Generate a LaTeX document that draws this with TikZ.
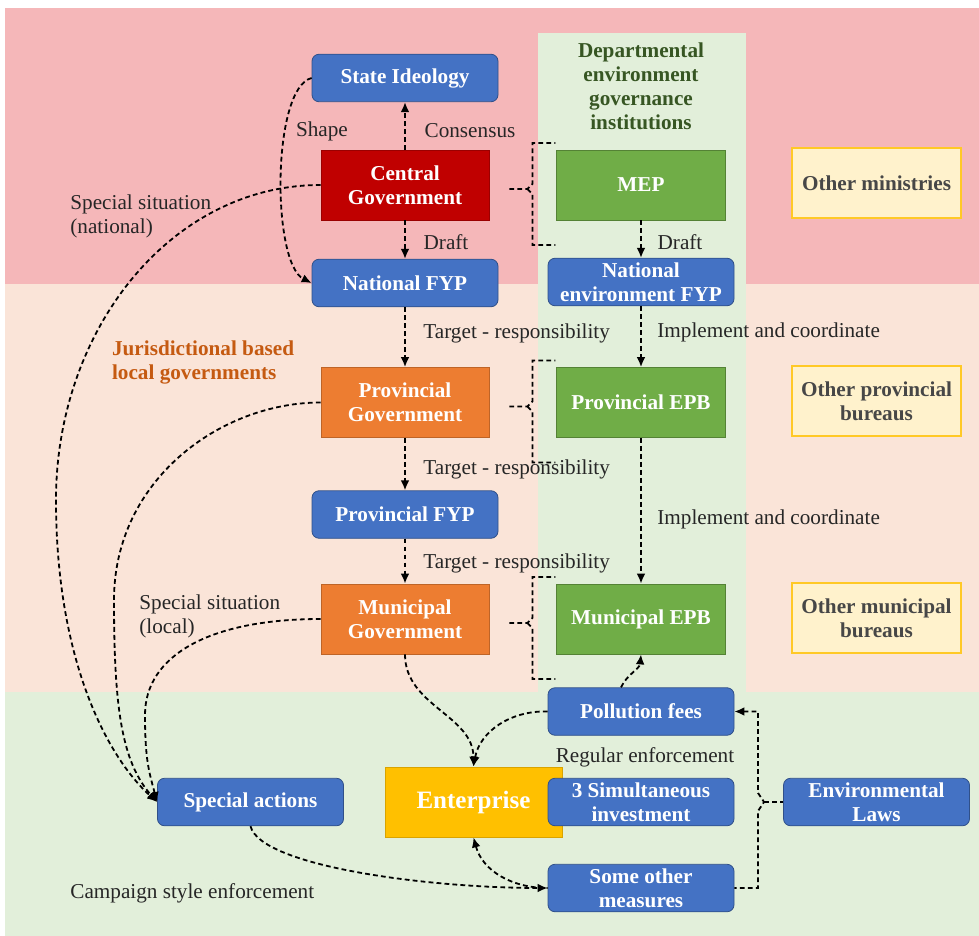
\documentclass[tikz,border=0pt]{standalone}
\usepackage{fontspec}
\setmainfont{Liberation Serif}
\usepackage{xcolor}
\usepackage{tikz}
\usetikzlibrary{arrows.meta, calc}
\definecolor{natband}{HTML}{F5B7B9}
\definecolor{locband}{HTML}{FAE4D8}
\definecolor{entband}{HTML}{E2EFDA}
\definecolor{fypblue}{HTML}{4472C4}
\definecolor{govred}{HTML}{C00000}
\definecolor{govorange}{HTML}{ED7D31}
\definecolor{epbgreen}{HTML}{70AD47}
\definecolor{entyellow}{HTML}{FFC000}
\definecolor{othfill}{HTML}{FFF2CC}
\definecolor{deptgreen}{HTML}{375623}
\definecolor{jurorange}{HTML}{C55A11}
\definecolor{ink}{HTML}{262626}
\newcommand{\basefont}{\fontsize{10.6}{12}\selectfont}
\tikzset{
    >={Latex[length=5pt, width=4.4pt]},
    every node/.style={font=\basefont},
    fypbox/.style={draw=fypblue!70!black, fill=fypblue, rounded corners=3.5pt, text=white, font=\basefont\bfseries, align=center, minimum width=93pt, minimum height=23.75pt, inner sep=1pt},
    govbox/.style={draw=#1!80!black, fill=#1, text=white, font=\basefont\bfseries, align=center, minimum width=84pt, minimum height=35pt, inner sep=1pt},
    epbbox/.style={draw=epbgreen!75!black, fill=epbgreen, text=white, font=\basefont\bfseries, align=center, minimum width=84.5pt, minimum height=35pt, inner sep=1pt},
    otherbox/.style={draw=entyellow!85!white, line width=0.8pt, fill=othfill, text=black!72, font=\basefont\bfseries, align=center, minimum width=84.5pt, minimum height=35pt, inner sep=1pt},
    entbox/.style={draw=entyellow!85!black, fill=entyellow, text=white, font=\fontsize{12.5}{14}\selectfont\bfseries, minimum width=88.5pt, minimum height=35pt},
    dashline/.style={draw=black, line width=0.9pt, dash pattern=on 2.4pt off 1.6pt},
    link/.style={dashline, ->},
    lab/.style={text=ink, inner sep=1pt, align=left}
}

\begin{document}
\begin{tikzpicture}[x=0.5pt, y=-0.5pt]
    \useasboundingbox (0,0) rectangle (979,936);
    % levels
    \fill[natband] (5,8) rectangle (979,284);
    \fill[locband] (5,284) rectangle (979,692);
    \fill[entband] (5,692) rectangle (979,936);
    \fill[entband] (538,33) rectangle (746,692);
    \node[text=deptgreen, font=\basefont\bfseries, align=center] (dept) at (641,86) {Departmental\\environment\\governance\\institutions};
    \node[text=jurorange, font=\basefont\bfseries, align=left, anchor=west] (juris) at (105,362) {Jurisdictional based\\local governments};

    % national
    \node[fypbox] (si) at (405,78) {State Ideology};
    \node[govbox=govred] (cg) at (405,185) {Central\\Government};
    \node[fypbox] (nfyp) at (405,283) {National FYP};
    \node[epbbox] (mep) at (641,185) {MEP};
    \node[fypbox] (nefyp) at (641,282) {National\\environment FYP};
    \node[otherbox] (om) at (876.5,183) {Other ministries};

    % provincial and municipal
    \node[govbox=govorange] (pg) at (405,402.5) {Provincial\\Government};
    \node[epbbox] (pepb) at (641,402.5) {Provincial EPB};
    \node[otherbox] (opb) at (876.5,401) {Other provincial\\bureaus};
    \node[fypbox] (pfyp) at (405,514.5) {Provincial FYP};
    \node[govbox=govorange] (mg) at (405,619) {Municipal\\Government};
    \node[epbbox] (mepb) at (641,619) {Municipal EPB};
    \node[otherbox] (omb) at (876.5,618) {Other municipal\\bureaus};

    % enforcement
    \node[fypbox] (pf) at (641,711.5) {Pollution fees};
    \node[entbox] (ent) at (473.5,802) {Enterprise};
    \node[fypbox] (tsi) at (641,802) {3 Simultaneous\\investment};
    \node[fypbox] (som) at (641,888) {Some other\\measures};
    \node[fypbox] (el) at (876.5,802) {Environmental\\Laws};
    \node[fypbox] (sa) at (250.5,802) {Special actions};

    % labels
    \node[lab] (lshape) at (322,131) {Shape};
    \node[lab] (lcons) at (470,131) {Consensus};
    \node[lab] (ldraft) at (446,242) {Draft};
    \node[lab] (ldraftenv) at (680,242) {Draft};
    \node[lab, anchor=west] (ltr1) at (421,333) {Target - responsibility};
    \node[lab, anchor=west] (ltr2) at (421,469) {Target - responsibility};
    \node[lab, anchor=west] (ltr3) at (421,563) {Target - responsibility};
    \node[lab, anchor=west] (lic1) at (655,332) {Implement and coordinate};
    \node[lab, anchor=west] (lic2) at (655,519) {Implement and coordinate};
    \node[lab, anchor=west] (lssn) at (68,216) {Special situation\\(national)};
    \node[lab, anchor=west] (lssl) at (137,616) {Special situation\\(local)};
    \node[lab] (lreg) at (645,757) {Regular enforcement};
    \node[lab, anchor=west] (lcamp) at (68,893) {Campaign style enforcement};

    % vertical flows
    \draw[link] (cg) -- (si);
    \draw[link] (cg) -- (nfyp);
    \draw[link] (nfyp) -- (pg);
    \draw[link] (pg) -- (pfyp);
    \draw[link] (pfyp) -- (mg);
    \draw[link] (mep) -- (nefyp);
    \draw[link] (nefyp) -- (pepb);
    \draw[link] (pepb) -- (mepb);
    \draw[link] (si.west) .. controls +(-40,10) and +(-40,-20) .. (nfyp.west);

    % governments to their departments
    \foreach \g in {cg,pg,mg}
        \draw[dashline] ($(\g.east)+(20,4)$) -- ++(18,0) -- ++(5,-5) -- ++(0,-41) -- ++(23,0)
                        ($(\g.east)+(38,4)$) -- ++(5,5) -- ++(0,51) -- ++(23,0);

    % special situations
    \draw[link] (cg.west) .. controls +(-150,0) and +(0,-170) .. (56,500) .. controls +(0,160) and +(-50,-45) .. (sa.west);
    \draw[link] (pg.west) .. controls +(-100,0) and +(0,-120) .. (114,600) .. controls +(0,110) and +(-35,-40) .. (sa.west);
    \draw[link] (mg.west) .. controls +(-110,0) and +(0,-60) .. (145,715) .. controls +(0,45) and +(-8,-30) .. (sa.west);

    % enforcement
    \draw[link] (mg.south) to[out=-90, in=90] (ent.north);
    \draw[link] (pf.west) to[out=178, in=80] (ent.north);
    \draw[link] ($(pf.north)+(-20,0)$) to[out=65, in=-95] (mepb.south);
    \coordinate (lawtip) at (764,802);
    \draw[dashline, <-] (pf.east) -| (758,793) -- (lawtip) -- (758,811) |- (som.east);
    \draw[dashline] (lawtip) -- (el.west);
    \draw[link] (sa.south) .. controls +(10,40) and +(-120,0) .. (som.west);
    \draw[dashline, <-] (ent.south) to[out=-75, in=180] (som.west);
\end{tikzpicture}
\end{document}
